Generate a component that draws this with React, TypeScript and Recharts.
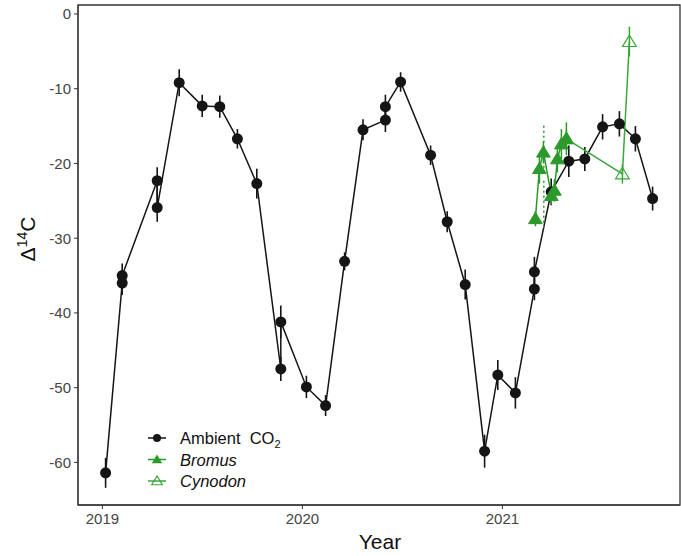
import {
  ComposedChart,
  Line,
  XAxis,
  YAxis,
  ErrorBar,
  ReferenceArea,
} from "recharts";

// Ambient CO2 (black)
const ambientYear = [
  2019.016, 2019.099, 2019.099, 2019.274, 2019.274, 2019.384, 2019.499, 2019.587,
  2019.675, 2019.772, 2019.892, 2019.892, 2020.02, 2020.116, 2020.211, 2020.303,
  2020.415, 2020.415, 2020.491, 2020.641, 2020.724, 2020.814, 2020.911, 2020.977,
  2021.065, 2021.16, 2021.16, 2021.244, 2021.332, 2021.412, 2021.501, 2021.585,
  2021.665, 2021.751,
];
const ambientValue = [
  -61.4, -36.0, -35.0, -22.3, -25.9, -9.2, -12.3, -12.4, -16.7, -22.7, -47.5, -41.2,
  -49.9, -52.4, -33.1, -15.5, -14.2, -12.4, -9.1, -18.9, -27.8, -36.2, -58.5, -48.3,
  -50.7, -36.8, -34.5, -23.8, -19.7, -19.4, -15.1, -14.7, -16.7, -24.7,
];
const ambientErr = [
  2.0, 1.6, 1.6, 1.8, 1.9, 1.8, 1.5, 1.5, 1.3, 2.0, 1.6, 2.2, 1.5, 1.4, 1.2, 1.4,
  1.6, 1.6, 1.3, 1.3, 1.4, 2.0, 2.2, 2.0, 2.1, 1.5, 2.0, 1.8, 2.1, 1.6, 1.7, 1.7,
  1.7, 1.6,
];

// Bromus (filled triangles)
const bromusYear = [2021.165, 2021.185, 2021.205, 2021.245, 2021.26, 2021.275, 2021.295, 2021.32];
const bromusValue = [-27.4, -20.7, -18.5, -24.3, -23.6, -19.4, -17.4, -16.7];
const bromusErr = [1.0, 2.0, 1.5, 1.2, 1.5, 1.8, 2.0, 2.2];

// dotted spread drawn at one Bromus date
const bromusDotYear = [2021.207];
const bromusDotValue = [-21.75];
const bromusDotErr = [6.85];

// Cynodon (open triangles)
const cynodonYear = [2021.32, 2021.6, 2021.635];
const cynodonValue = [-16.7, -21.4, -3.7];
const cynodonErr = [1.2, 1.3, 2.0];

const yearTicks = [2019, 2020, 2021];
const valueTicks = [0, -10, -20, -30, -40, -50, -60];

const toRows = (xs: number[], ys: number[], es: number[]) =>
  xs.map((x, i) => ({ x, y: ys[i], e: es[i] }));

const ambient = toRows(ambientYear, ambientValue, ambientErr);
const bromus = toRows(bromusYear, bromusValue, bromusErr);
const bromusDot = toRows(bromusDotYear, bromusDotValue, bromusDotErr);
const cynodon = toRows(cynodonYear, cynodonValue, cynodonErr);

const BLACK = "#151515";
const GREEN = "#2b992b";
const GREEN2 = "#3aa83a";
const FONT = "'Liberation Sans', Arial, sans-serif";

const tri = (cx: number, cy: number, s: number) =>
  `${cx},${cy - s} ${cx - s * 1.05},${cy + s * 0.75} ${cx + s * 1.05},${cy + s * 0.75}`;

const FilledTri = (p: any) =>
  p.cx == null ? null : (
    <polygon key={p.index} points={tri(p.cx, p.cy, 6.5)} fill={GREEN} stroke={GREEN} strokeWidth={1} />
  );
const OpenTri = (p: any) =>
  p.cx == null ? null : (
    <polygon key={p.index} points={tri(p.cx, p.cy, 6.5)} fill="none" stroke={GREEN2} strokeWidth={1.2} />
  );

const LegendBox = () => {
  const rows = [
    { label: "Ambient", kind: "c" },
    { label: "Bromus", kind: "f" },
    { label: "Cynodon", kind: "o" },
  ];
  return (
    <svg width={200} height={70} style={{ fontFamily: FONT, display: "block" }}>
      {rows.map((r, i) => {
        const y = 12 + i * 21.5;
        const col = r.kind === "c" ? BLACK : r.kind === "f" ? GREEN : GREEN2;
        return (
          <g key={r.label}>
            <line x1={3} x2={21} y1={y} y2={y} stroke={col} strokeWidth={1.5} />
            {r.kind === "c" && <circle cx={12} cy={y} r={4} fill={BLACK} />}
            {r.kind === "f" && <polygon points={tri(12, y, 5)} fill={GREEN} />}
            {r.kind === "o" && <polygon points={tri(12, y, 5)} fill="none" stroke={GREEN2} strokeWidth={1.2} />}
            {r.kind === "c" ? (
              <text x={35} y={y + 6} fontSize={16.5} fill="#111">
                Ambient{"\u00a0\u00a0"}CO
                <tspan fontSize={11} dy={4}>2</tspan>
              </text>
            ) : (
              <text x={35} y={y + 6} fontSize={16.5} fill="#111" fontStyle="italic">
                {r.label}
              </text>
            )}
          </g>
        );
      })}
    </svg>
  );
};

export default function App() {
  return (
    <div style={{ position: "absolute", left: 0, top: 0, width: 681, height: 556, background: "#fff" }}>
      <ComposedChart width={681} height={556} margin={{ top: 5, right: 1, bottom: 0, left: 0 }}>
        <ReferenceArea
          x1={2018.878}
          x2={2021.888}
          y1={-65.7}
          y2={1.2}
          fill="none"
          stroke="#333"
          strokeWidth={1.3}
          ifOverflow="extendDomain"
        />
        <XAxis
          type="number"
          dataKey="x"
          domain={[2018.878, 2021.888]}
          ticks={yearTicks}
          allowDataOverflow
          height={51}
          tickSize={4}
          tickMargin={4}
          stroke="#333"
          tick={{ fontSize: 15, fill: "#444", fontFamily: FONT }}
          label={{
            content: () => (
              <text x={380} y={549} textAnchor="middle" fontSize={21} fill="#111" fontFamily={FONT}>
                Year
              </text>
            ),
          }}
        />
        <YAxis
          type="number"
          dataKey="y"
          domain={[-65.7, 1.2]}
          ticks={valueTicks}
          allowDataOverflow
          width={78}
          tickSize={4}
          tickMargin={3}
          stroke="#333"
          tick={{ fontSize: 15, fill: "#444", fontFamily: FONT }}
          label={{
            content: () => (
              <text
                x={0}
                y={0}
                transform="translate(35,239) rotate(-90)"
                textAnchor="middle"
                fontSize={21}
                fill="#111"
                fontFamily={FONT}
              >
                Δ<tspan fontSize={14} dy={-8}>14</tspan>
                <tspan dy={8}>C</tspan>
              </text>
            ),
          }}
        />
        <Line
          data={ambient}
          dataKey="y"
          stroke={BLACK}
          strokeWidth={1.5}
          dot={{ r: 5.5, fill: BLACK, stroke: BLACK, strokeWidth: 0 }}
          isAnimationActive={false}
        >
          <ErrorBar dataKey="e" width={0} stroke={BLACK} strokeWidth={1.6} direction="y" />
        </Line>
        <Line
          data={bromusDot}
          dataKey="y"
          stroke="none"
          dot={false}
          isAnimationActive={false}
        >
          <ErrorBar dataKey="e" width={0} stroke={GREEN} strokeWidth={1.5} strokeDasharray="2 3" direction="y" />
        </Line>
        <Line
          data={cynodon}
          dataKey="y"
          stroke={GREEN2}
          strokeWidth={1.5}
          dot={OpenTri}
          isAnimationActive={false}
        >
          <ErrorBar dataKey="e" width={0} stroke={GREEN2} strokeWidth={1.5} direction="y" />
        </Line>
        <Line
          data={bromus}
          dataKey="y"
          stroke={GREEN}
          strokeWidth={1.5}
          dot={FilledTri}
          isAnimationActive={false}
        >
          <ErrorBar dataKey="e" width={0} stroke={GREEN} strokeWidth={1.5} direction="y" />
        </Line>
      </ComposedChart>
      <div style={{ position: "absolute", left: 145, top: 426 }}>
        <LegendBox />
      </div>
    </div>
  );
}
